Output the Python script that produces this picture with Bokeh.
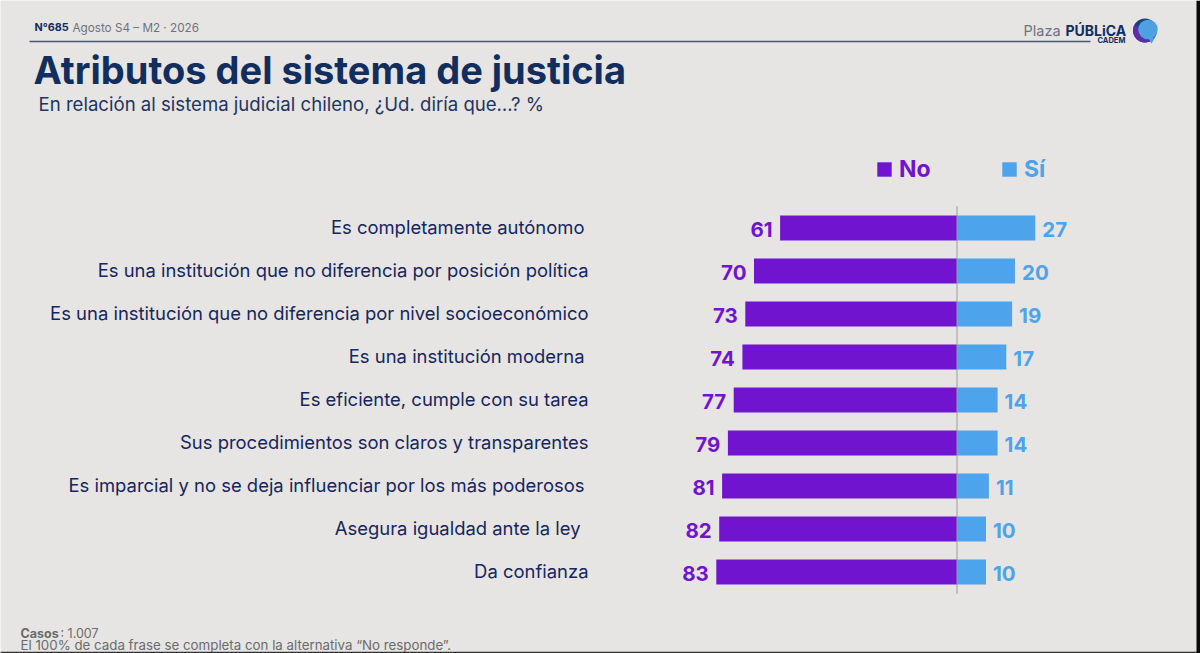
from bokeh.plotting import figure
from bokeh.core.properties import value
from bokeh.models import ColumnDataSource, Range1d, Legend, LegendItem
from bokeh.embed import file_html
from bokeh.resources import INLINE

categories = [
    "Es completamente autónomo",
    "Es una institución que no diferencia por posición política",
    "Es una institución que no diferencia por nivel socioeconómico",
    "Es una institución moderna",
    "Es eficiente, cumple con su tarea",
    "Sus procedimientos son claros y transparentes",
    "Es imparcial y no se deja influenciar por los más poderosos",
    "Asegura igualdad ante la ley",
    "Da confianza",
]
no_values = [61, 70, 73, 74, 77, 79, 81, 82, 83]
si_values = [27, 20, 19, 17, 14, 14, 11, 10, 10]
title_text = "Atributos del sistema de justicia"
subtitle_text = "En relación al sistema judicial chileno, ¿Ud. diría que…? %"

BG = "#E6E5E4"; PURPLE = "#7014CF"; BLUE = "#4DA3EC"; NAVY = "#122E5E"; INK = "#16265F"
FONT = value("Inter")

W, H = 1200, 653
ZERO_PX, UNIT_PX, ROW0_PX, ROW_PX = 956.5, 2.9, 227.5, 43
def X(px): return (px - ZERO_PX) / UNIT_PX
def Y(py): return (py - ROW0_PX) / ROW_PX

p = figure(width=W, height=H, output_backend="svg", toolbar_location=None,
           x_range=Range1d(X(0), X(W)), y_range=Range1d(Y(H), Y(0)),
           min_border=0, outline_line_color=None, background_fill_color=BG,
           border_fill_color=BG)
p.axis.visible = False
p.grid.visible = False

rows = list(range(len(categories)))
nudge = [-4, 0, 0, -4, 0, 0, -4, -8, 0]
src = ColumnDataSource(dict(
    row=rows, cat=categories, no=[-v for v in no_values], si=si_values,
    no_txt=[str(v) for v in no_values], si_txt=[str(v) for v in si_values],
    nudge=nudge, zero=[0] * len(rows)))

bar_no = p.hbar(y="row", left="no", right="zero", height=25 / ROW_PX, source=src,
                fill_color=PURPLE, line_color=None)
bar_si = p.hbar(y="row", left="zero", right="si", height=25 / ROW_PX, source=src,
                fill_color=BLUE, line_color=None)
p.segment(x0=[0], x1=[0], y0=[-0.51], y1=[8.51], line_color="#9A9A9E", line_width=1)

p.text(x=X(588), y="row", text="cat", source=src, x_offset="nudge", y_offset=-1,
       text_align="right", text_baseline="middle", text_font=FONT,
       text_font_size="18.45px", text_color=INK)
p.text(x="no", y="row", text="no_txt", source=src, x_offset=-7.5, y_offset=1,
       text_align="right", text_baseline="middle", text_font=FONT, text_font_style="bold",
       text_font_size="20.5px", text_color=PURPLE)
p.text(x="si", y="row", text="si_txt", source=src, x_offset=7, y_offset=1,
       text_align="left", text_baseline="middle", text_font=FONT, text_font_style="bold",
       text_font_size="20.5px", text_color=BLUE)

def legend(renderer, label, color, x_px):
    lg = Legend(items=[LegendItem(label=label, renderers=[renderer])],
                location=(x_px, H - 183), orientation="horizontal",
                background_fill_alpha=0, border_line_alpha=0, padding=0, margin=0,
                glyph_width=18, glyph_height=18, label_standoff=6, label_height=18,
                label_text_color=color, label_text_font="Inter", label_text_font_style="bold",
                label_text_font_size="23px", label_text_baseline="middle")
    p.add_layout(lg)
legend(bar_no, "No", PURPLE, 875)
legend(bar_si, "Sí", BLUE, 1000)

def txt(s, x, y, size, color, style="normal", align="left"):
    p.text(x=[X(x)], y=[Y(y)], text=[s], text_font=FONT, text_font_size=size,
           text_color=color, text_font_style=style, text_align=align, text_baseline="middle")

txt("N°685", 34, 27, "10.8px", NAVY, "bold")
txt("Agosto S4 – M2 · 2026", 72, 27, "11.7px", "#6E7180")
p.segment(x0=[X(29)], x1=[X(1090)], y0=[Y(41)], y1=[Y(41)], line_color="#4A5680", line_width=1.5)
txt(title_text, 33, 69, "38px", NAVY, "bold")
txt(subtitle_text, 38, 103, "18.6px", "#1F3560")

txt("Plaza", 1023, 30, "14.5px", "#6E7180")
txt("PÚBLiCA", 1065, 30, "14px", NAVY, "bold")
txt("CADEM", 1097, 40, "7.5px", NAVY, "bold")

# logo mark: layered bubble
p.scatter(x=[X(1144.5)], y=[Y(30)], size=24, marker="circle", fill_color="#17427E", line_color=None)
p.annular_wedge(x=[X(1144.5)], y=[Y(30)], inner_radius=0, outer_radius=12,
                inner_radius_units="screen", outer_radius_units="screen",
                start_angle=[2.7], end_angle=[5.2], fill_color="#5E2CA5", line_color=None)
p.scatter(x=[X(1147.5)], y=[Y(29)], size=19.5, marker="circle", fill_color="#4FA0E3", line_color=None)
p.scatter(x=[X(1151)], y=[Y(39.5)], size=6.5, marker="inverted_triangle", fill_color="#4FA0E3", line_color=None)

txt("Casos", 20, 633, "12.5px", "#6B6B6B", "bold")
txt(": 1.007", 60, 633, "12.5px", "#6B6B6B")
txt("El 100% de cada frase se completa con la alternativa “No responde”.", 20, 644.5, "13.3px", "#6B6B6B")
# screenshot edges
p.segment(x0=[X(0)], x1=[X(1200)], y0=[Y(652.2)], y1=[Y(652.2)], line_color="#333333", line_width=2)
p.segment(x0=[X(1198)], x1=[X(1198)], y0=[Y(0)], y1=[Y(653)], line_color="#0A0A0A", line_width=4)

open("out.html", "w").write(file_html(p, INLINE))
